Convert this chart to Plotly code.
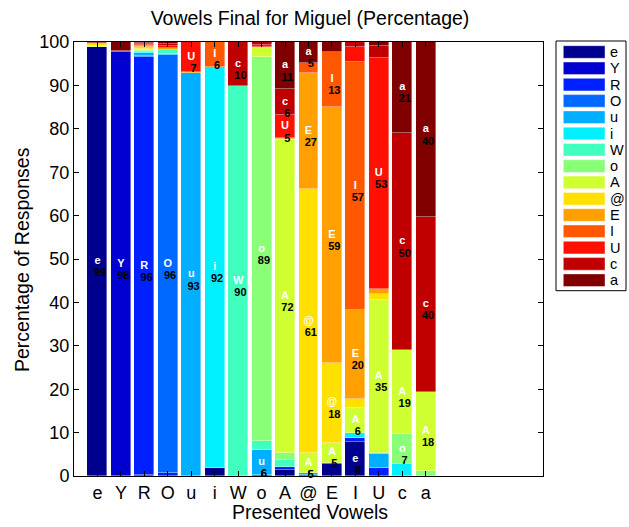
import plotly.graph_objects as go

# Presented vowels (x categories) and response categories (stack order, bottom -> top)
presented = ["e", "Y", "R", "O", "u", "i", "W", "o", "A", "@", "E", "I", "U", "c", "a"]
responses = ["e", "Y", "R", "O", "u", "i", "W", "o", "A", "@", "E", "I", "U", "c", "a"]

# Percentage of each response for each presented vowel (order of `presented`)
resp_e = [98.9, 0, 0, 0, 0, 1.9, 0, 0, 1.3, 0, 2.8, 7.8, 0, 0, 0]
resp_Y = [0, 97.6, 0.3, 0, 0, 0, 0, 0, 0, 0, 0, 0, 0, 0, 0]
resp_R = [0, 0, 96.2, 0.8, 0, 0, 0, 0.2, 0.8, 0.2, 0.3, 1.0, 1.9, 0, 0]
resp_O = [0, 0, 0.3, 96.2, 0, 0, 0, 0, 0, 0, 0, 0, 0, 0, 0]
resp_u = [0, 0, 0.6, 0.3, 92.8, 0, 0, 5.9, 0, 0.4, 0, 0, 3.1, 0, 0]
resp_i = [0, 0, 0.3, 0, 0, 92.3, 0, 0, 0, 0, 0, 1.1, 0.3, 2.7, 0]
resp_W = [0, 0, 0.3, 0.9, 0, 0, 89.8, 1.9, 1.6, 0, 0, 0, 0, 0, 0]
resp_o = [0, 0, 0.2, 0, 0, 0, 0, 88.6, 1.7, 0, 0, 0, 0, 6.9, 1.2]
resp_A = [0.2, 0, 0.3, 0, 0, 0, 0, 2.2, 72.0, 4.6, 4.6, 5.8, 35.3, 19.4, 18.2]
resp_at = [0.4, 0, 0.3, 0, 0, 0, 0, 0, 0.3, 60.9, 18.4, 2.1, 1.4, 0, 0]
resp_E = [0.2, 0, 0.2, 0.4, 0.3, 0, 0, 0, 0.2, 26.7, 58.9, 20.5, 1.0, 0, 0]
resp_I = [0, 0, 0.2, 0, 0, 5.8, 0, 0, 0, 2.4, 12.7, 57.0, 0, 0, 0]
resp_U = [0, 0, 0.3, 0.4, 6.9, 0, 0, 0.5, 5.2, 0, 0, 3.5, 53.4, 0, 0]
resp_c = [0.1, 0.3, 0.2, 0.5, 0, 0, 10.2, 0.7, 6.0, 0, 0, 1.2, 2.6, 50.0, 40.2]
resp_a = [0.2, 2.1, 0.3, 0.5, 0, 0, 0, 0, 10.9, 4.8, 2.3, 0, 1.0, 21.0, 40.4]

# Presented vowels flagged with an asterisk
flagged = [False, False, False, False, False, False, False, False, True, True, True, True, True, True, True]

y_ticks = [0, 10, 20, 30, 40, 50, 60, 70, 80, 90, 100]

series = [resp_e, resp_Y, resp_R, resp_O, resp_u, resp_i, resp_W, resp_o,
          resp_A, resp_at, resp_E, resp_I, resp_U, resp_c, resp_a]
colors = ["#00008F", "#0000D0", "#0020FF", "#0068FF", "#00AFFF", "#00F0FF",
          "#40FFBF", "#88FF77", "#CFFF30", "#FFE000", "#FFA000", "#FF5800",
          "#FF1000", "#C00000", "#800000"]

FONT = "Liberation Sans, Arial, Helvetica, sans-serif"
W, H = 629, 527
L, R, T, B = 74, 86, 42, 51
PW, PH = W - L - R, H - T - B

def px_x(px):
    return (px - L) / PW

def px_y(py):
    return (H - B - py) / PH

xs = list(range(1, len(presented) + 1))
fig = go.Figure()
for name, vals, col in zip(responses, series, colors):
    fig.add_trace(go.Bar(
        x=xs, y=[v if v > 0 else None for v in vals], name=name, width=0.85,
        marker=dict(color=col, line=dict(color="rgba(255,255,255,0.55)", width=0.7)),
        showlegend=False, hoverinfo="x+y+name"))

# segment labels
lx, ly, lt, nx, ny, nt = [], [], [], [], [], []
for j in range(len(presented)):
    base = 0.0
    for k, vals in enumerate(series):
        v = vals[j]
        if round(v) >= 5:
            c = base + v / 2
            lx.append(xs[j]); ly.append(c); lt.append("<b>%s</b>" % responses[k])
            nx.append(xs[j] + 0.1); ny.append(c - 2.8); nt.append("<b>%d</b>" % round(v))
        base += v
fig.add_trace(go.Scatter(x=lx, y=ly, text=lt, mode="text", cliponaxis=False,
                         textfont=dict(family=FONT, size=11, color="white"),
                         showlegend=False, hoverinfo="skip"))
fig.add_trace(go.Scatter(x=nx, y=ny, text=nt, mode="text", cliponaxis=False,
                         textfont=dict(family=FONT, size=11, color="black"),
                         showlegend=False, hoverinfo="skip"))
# asterisks
fig.add_trace(go.Scatter(x=[x for x, f in zip(xs, flagged) if f],
                         y=[100.9 for f in flagged if f],
                         text=["*" for f in flagged if f], mode="text", cliponaxis=False,
                         textfont=dict(family=FONT, size=10, color="black"),
                         showlegend=False, hoverinfo="skip"))

# custom legend (MATLAB style)
shapes = []
annotations = []
shapes.append(dict(type="rect", xref="paper", yref="paper",
                   x0=px_x(556), x1=px_x(626), y0=px_y(290.7), y1=px_y(41),
                   line=dict(color="black", width=1), fillcolor="white", layer="above"))
for k, (name, col) in enumerate(zip(responses, colors)):
    top = 45.7 + 16.3 * k
    shapes.append(dict(type="rect", xref="paper", yref="paper",
                       x0=px_x(563.3), x1=px_x(605), y0=px_y(top + 12.6), y1=px_y(top),
                       line=dict(color="rgba(255,255,255,0.6)", width=0.7), fillcolor=col,
                       layer="above"))
    annotations.append(dict(xref="paper", yref="paper", x=px_x(607.5), y=px_y(top + 6.3),
                            text=name, showarrow=False, xanchor="left", yanchor="middle",
                            font=dict(family=FONT, size=14.5, color="black")))

annotations.append(dict(xref="paper", yref="paper", x=px_x(310), y=px_y(512),
                        text="Presented Vowels", showarrow=False, xanchor="center",
                        yanchor="middle", font=dict(family=FONT, size=19.5, color="black")))
annotations.append(dict(xref="paper", yref="paper", x=px_x(22), y=px_y(260),
                        text="Percentage of Responses", showarrow=False, textangle=-90,
                        xanchor="center", yanchor="middle",
                        font=dict(family=FONT, size=19.5, color="black")))

fig.update_layout(
    width=W, height=H, autosize=False,
    margin=dict(l=L, r=R, t=T, b=B, pad=0),
    barmode="stack", bargap=0,
    plot_bgcolor="white", paper_bgcolor="white",
    title=dict(text="Vowels Final for Miguel (Percentage)", x=px_x(310), xref="paper",
               xanchor="center", y=1 - 18 / H, yanchor="middle",
               font=dict(family=FONT, size=19.5, color="black")),
    xaxis=dict(range=[0, 20], tickmode="array", tickvals=xs, ticktext=presented,
               ticks="inside", ticklen=5, tickcolor="black", showline=True,
               linecolor="black", linewidth=1, mirror="ticks", showgrid=False,
               zeroline=False, tickfont=dict(family=FONT, size=18, color="black")),
    yaxis=dict(range=[0, 100], tickmode="array", tickvals=y_ticks,
               ticks="inside", ticklen=5, tickcolor="black", showline=True,
               linecolor="black", linewidth=1, mirror="ticks", showgrid=False,
               zeroline=False, tickfont=dict(family=FONT, size=18, color="black")),
    shapes=shapes, annotations=annotations,
)

fig.write_html("out.html", config={"displayModeBar": False},
               post_script="document.body.style.margin='0';document.body.style.overflow='hidden';")
